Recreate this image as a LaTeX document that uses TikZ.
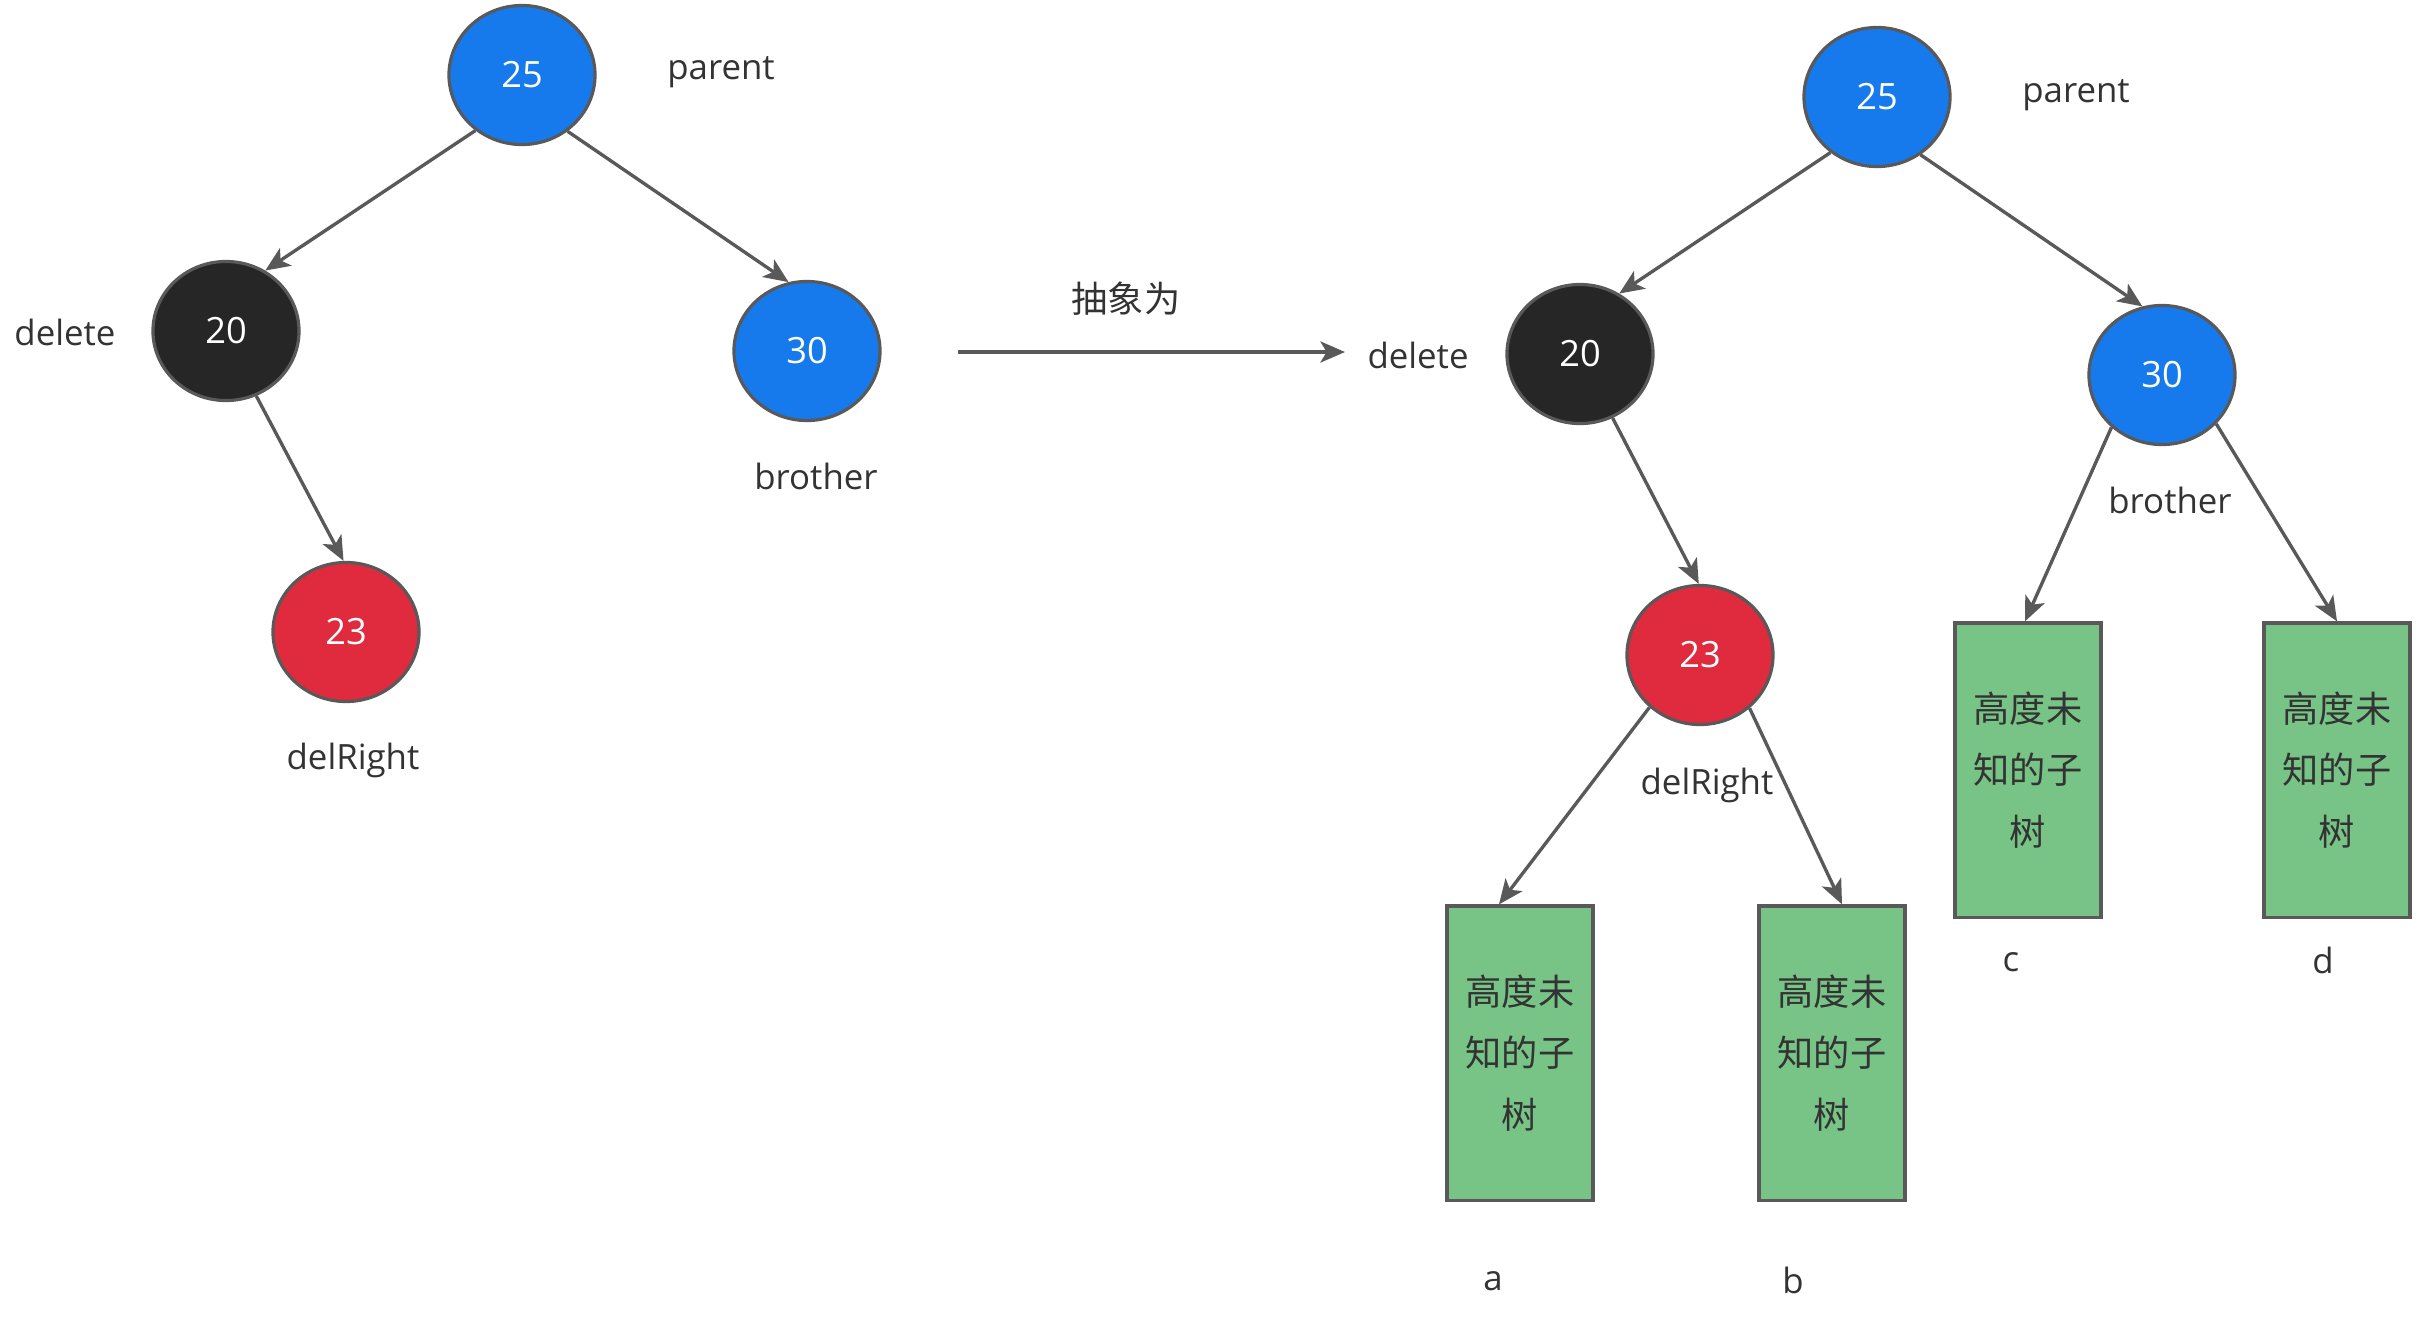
\documentclass[tikz,border=0pt]{standalone}
\usepackage{fontspec}
\setmainfont{Open Sans}
\newfontfamily\cjk{Noto Sans CJK SC}
\usetikzlibrary{shapes.geometric,arrows.meta}
\definecolor{nblue}{HTML}{1679EC}
\definecolor{nblack}{HTML}{262626}
\definecolor{nred}{HTML}{E02A3E}
\definecolor{ngreen}{HTML}{78C487}
\definecolor{nstroke}{HTML}{595959}
\definecolor{ntext}{HTML}{333333}
\tikzset{
  rb/.style={ellipse,draw=nstroke,line width=0.9pt,minimum width=1.46cm,minimum height=1.39cm,inner sep=0pt,text=white,font=\fontsize{10.3}{12}\selectfont},
  bluenode/.style={rb,fill=nblue},
  blacknode/.style={rb,fill=nblack},
  rednode/.style={rb,fill=nred},
  subtree/.style={rectangle,draw=nstroke,line width=0.9pt,fill=ngreen,minimum width=1.46cm,minimum height=2.94cm,inner sep=0pt,align=center,text=ntext,font=\cjk\fontsize{10.3}{17.6}\selectfont},
  lbl/.style={text=ntext,inner sep=0pt,font=\fontsize{9.9}{12}\selectfont},
  edge/.style={draw=nstroke,line width=0.95pt,-{Stealth[length=7pt,width=6pt,inset=1.8pt]}}
}
\begin{document}
\begin{tikzpicture}[x=0.01cm,y=-0.01cm]
\useasboundingbox[fill=white] (0,0) rectangle (2424,1323);
% left tree
\node[bluenode] (l25) at (522,75) {25};
\node[blacknode] (l20) at (226,331) {20};
\node[bluenode] (l30) at (807,351) {30};
\node[rednode] (l23) at (346,632) {23};
\node[lbl] (lparent) at (721,72) {parent};
\node[lbl] (ldelete) at (65,332) {delete};
\node[lbl] (lbrother) at (816,476) {brother};
\node[lbl] (ldelright) at (353,760) {delRight};
\draw[edge] (l25.230) -- (l20.57);
\draw[edge] (l25.309) -- (l30.105);
\draw[edge] (l20.295) -- (l23.92);
% middle arrow
\coordinate (mstart) at (958,352);
\coordinate (mend) at (1345,352);
\draw[edge] (mstart) -- (mend);
\node[lbl,font=\cjk\fontsize{10.3}{12}\selectfont] (abs) at (1126,299) {抽象为};
% right tree
\node[bluenode] (r25) at (1877,97) {25};
\node[blacknode] (r20) at (1580,354) {20};
\node[bluenode] (r30) at (2162,375) {30};
\node[rednode] (r23) at (1700,655) {23};
\node[subtree] (ra) at (1520,1053) {高度未\\知的子\\树};
\node[subtree] (rb) at (1832,1053) {高度未\\知的子\\树};
\node[subtree] (rc) at (2028,770) {高度未\\知的子\\树};
\node[subtree] (rd) at (2337,770) {高度未\\知的子\\树};
\node[lbl] (rparent) at (2076,95) {parent};
\node[lbl] (rdelete) at (1418,355) {delete};
\node[lbl] (rbrother) at (2170,500) {brother};
\node[lbl] (rdelright) at (1707,785) {delRight};
\node[lbl] (la) at (1493,1281) {a};
\node[lbl] (lb) at (1793,1280) {b};
\node[lbl] (lc) at (2011,962) {c};
\node[lbl] (ld) at (2323,960) {d};
\draw[edge] (r25.230) -- (r20.57);
\draw[edge] (r25.307) -- (r30.106);
\draw[edge] (r20.297) -- (r23.91);
\draw[edge] (r23.226) -- ([xshift=-0.21cm]ra.north);
\draw[edge] (r23.313) -- ([xshift=0.1cm]rb.north);
\draw[edge] (r30.226) -- ([xshift=-0.03cm]rc.north);
\draw[edge] (r30.318) -- (rd.north);
\end{tikzpicture}
\end{document}
